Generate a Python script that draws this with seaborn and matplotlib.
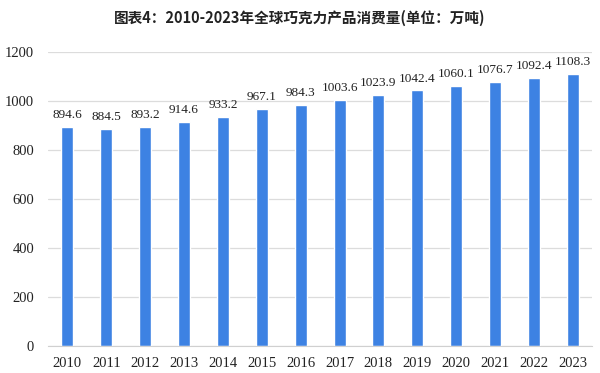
import numpy as np
import pandas as pd
import matplotlib
matplotlib.use("Agg")
import matplotlib.pyplot as plt
import seaborn as sns

# data
years = ['2010', '2011', '2012', '2013', '2014', '2015', '2016',
         '2017', '2018', '2019', '2020', '2021', '2022', '2023']
consumption = [894.6, 884.5, 893.2, 914.6, 933.2, 967.1, 984.3,
               1003.6, 1023.9, 1042.4, 1060.1, 1076.7, 1092.4, 1108.3]
yticks = [0, 200, 400, 600, 800, 1000, 1200]
title = '图表4：2010-2023年全球巧克力产品消费量(单位：万吨)'

df = pd.DataFrame({'year': years, 'value': consumption})

sns.set_style("white")
plt.rcParams['font.family'] = ['Liberation Serif', 'DejaVu Serif']

fig = plt.figure(figsize=(6, 3.73), dpi=100)
ax = fig.add_axes([0.08, 0.072, 0.907, 0.789])

sns.barplot(data=df, x='year', y='value', color='#3d82e3', width=0.31,
            saturation=1, ax=ax)

# value labels above the bars
for i, v in enumerate(consumption):
    ax.text(i, v + 24, f'{v:.1f}', ha='center', va='bottom', fontsize=9.5,
            color='#222222')

ax.set_ylim(0, 1200)
ax.set_xlim(-0.5, 13.5)
ax.set_yticks(yticks)
ax.yaxis.grid(True, color='#dcdcdc', linewidth=0.9)
ax.set_axisbelow(True)
ax.set_xlabel('')
ax.set_ylabel('')
for s in ['top', 'right', 'left']:
    ax.spines[s].set_visible(False)
ax.spines['bottom'].set_color('#d0d0d0')
ax.tick_params(axis='both', length=0, labelsize=10.5, colors='#222222')
ax.tick_params(axis='x', pad=8)
ax.tick_params(axis='y', pad=10)

fig.text(0.5, 0.952, title, ha='center', va='center', fontsize=10.5,
         fontweight='bold', family=['Noto Sans CJK SC', 'DejaVu Sans'],
         color='#222222')

fig.savefig('out.png', dpi=100)
